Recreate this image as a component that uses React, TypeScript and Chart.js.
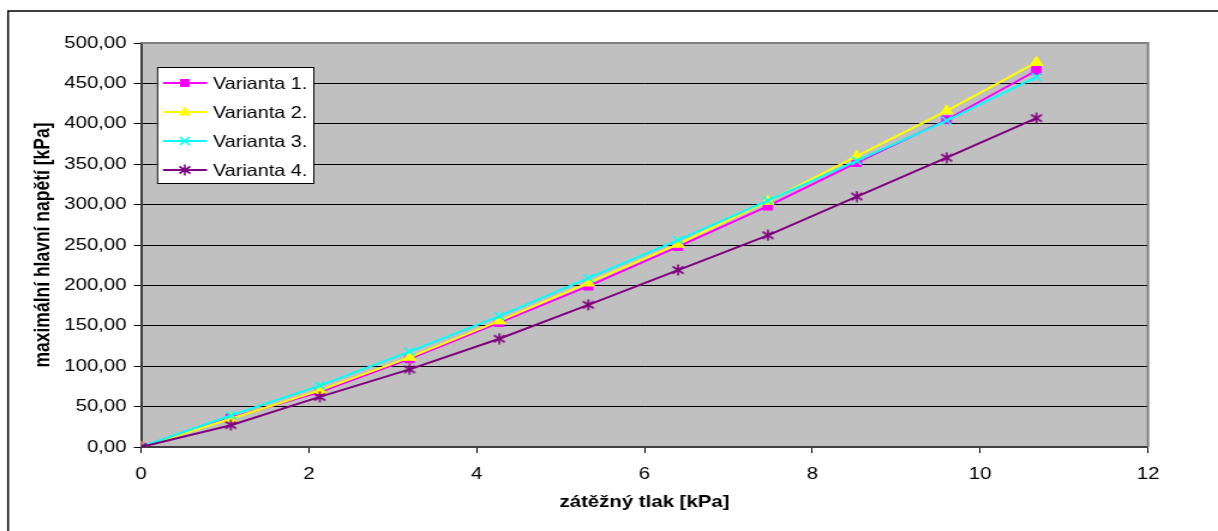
import React, { useEffect, useRef } from "react";
import { Chart, registerables } from "chart.js";

Chart.register(...registerables);

// ---- data ----
const xValues = [0, 1.07, 2.13, 3.2, 4.27, 5.33, 6.4, 7.47, 8.53, 9.6, 10.67];
const seriesNames = ["Varianta 1.", "Varianta 2.", "Varianta 3.", "Varianta 4."];
const variant1 = [0, 36, 68, 109, 154, 199, 248, 298, 352, 405, 466];
const variant2 = [0, 35, 70, 111, 156, 203, 251, 304, 360, 416, 476];
const variant3 = [0, 39, 76, 118, 162, 209, 256, 305, 354, 404, 458];
const variant4 = [0, 27, 62, 96, 134, 176, 219, 262, 310, 358, 407];
const xTickValues = [0, 2, 4, 6, 8, 10, 12];
const yTickValues = [0, 50, 100, 150, 200, 250, 300, 350, 400, 450, 500];
const xTitle = "zátěžný tlak [kPa]";
const yTitle = "maximální hlavní napětí [kPa]";

// ---- styling ----
const STRETCH = 1.2;
const W = Math.round(1218 / STRETCH);
const H = 531;
const FONT = "'Liberation Sans', Arial, sans-serif";
const colors = ["#FF00FF", "#FFFF00", "#00FFFF", "#800080"];
const styles = ["rect", "triangle", "crossRot", "star"];

function makeStar(color: string) {
  const c = document.createElement("canvas");
  c.width = 12;
  c.height = 12;
  const g = c.getContext("2d")!;
  g.strokeStyle = color;
  g.lineWidth = 1.6;
  g.beginPath();
  g.moveTo(6, 0.5);
  g.lineTo(6, 11.5);
  g.moveTo(1.5, 2.5);
  g.lineTo(10.5, 9.5);
  g.moveTo(10.5, 2.5);
  g.lineTo(1.5, 9.5);
  g.stroke();
  return c;
}

function drawMarker(ctx: CanvasRenderingContext2D, style: string, color: string, cx: number, cy: number, star: HTMLCanvasElement) {
  ctx.save();
  ctx.fillStyle = color;
  ctx.strokeStyle = color;
  ctx.lineWidth = 1.6;
  if (style === "rect") {
    ctx.fillRect(cx - 4, cy - 4, 8, 8);
  } else if (style === "triangle") {
    ctx.beginPath();
    ctx.moveTo(cx, cy - 5.5);
    ctx.lineTo(cx + 5, cy + 3.5);
    ctx.lineTo(cx - 5, cy + 3.5);
    ctx.closePath();
    ctx.fill();
  } else if (style === "crossRot") {
    ctx.beginPath();
    ctx.moveTo(cx - 4, cy - 4);
    ctx.lineTo(cx + 4, cy + 4);
    ctx.moveTo(cx + 4, cy - 4);
    ctx.lineTo(cx - 4, cy + 4);
    ctx.stroke();
  } else {
    ctx.drawImage(star, cx - 6, cy - 6);
  }
  ctx.restore();
}

export default function App() {
  const ref = useRef<HTMLCanvasElement | null>(null);

  useEffect(() => {
    const canvas = ref.current!;
    const star = makeStar(colors[3]);
    const allSeries = [variant1, variant2, variant3, variant4];

    const framePlugin = {
      id: "frame",
      beforeDraw(chart: any) {
        const { ctx, chartArea } = chart;
        ctx.save();
        ctx.fillStyle = "#FFFFFF";
        ctx.fillRect(0, 0, W, H);
        ctx.strokeStyle = "#000000";
        ctx.lineWidth = 1.5;
        ctx.beginPath();
        ctx.moveTo(6.7, H + 2);
        ctx.lineTo(6.7, 11);
        ctx.lineTo(W + 2, 11);
        ctx.stroke();
        ctx.fillStyle = "#C0C0C0";
        ctx.fillRect(chartArea.left, chartArea.top, chartArea.right - chartArea.left, chartArea.bottom - chartArea.top);
        ctx.restore();
      },
      beforeDatasetsDraw(chart: any) {
        const { ctx, chartArea } = chart;
        ctx.save();
        ctx.strokeStyle = "#808080";
        ctx.lineWidth = 2;
        ctx.beginPath();
        ctx.moveTo(chartArea.left, chartArea.top);
        ctx.lineTo(chartArea.right, chartArea.top);
        ctx.lineTo(chartArea.right, chartArea.bottom);
        ctx.stroke();
        ctx.restore();
      },
      afterDraw(chart: any) {
        const { ctx } = chart;
        const L = 130.8, T = 67, R = 262, B = 184;
        ctx.save();
        ctx.fillStyle = "#FFFFFF";
        ctx.fillRect(L, T, R - L, B - T);
        ctx.strokeStyle = "#000000";
        ctx.lineWidth = 1;
        ctx.strokeRect(L + 0.5, T + 0.5, R - L - 1, B - T - 1);
        const rows = [83, 112, 141, 170];
        seriesNames.forEach((name, i) => {
          const y = rows[i];
          ctx.strokeStyle = colors[i];
          ctx.lineWidth = 2;
          ctx.beginPath();
          ctx.moveTo(135.8, y);
          ctx.lineTo(172.5, y);
          ctx.stroke();
          drawMarker(ctx, styles[i], colors[i], 154, y, star);
          ctx.fillStyle = "#000000";
          ctx.font = `16.5px ${FONT}`;
          ctx.textBaseline = "middle";
          ctx.textAlign = "left";
          ctx.fillText(name, 177.5, y + 1);
        });
        ctx.restore();
      },
    };

    const chart = new Chart(canvas, {
      type: "line",
      data: {
        datasets: allSeries.map((vals, i) => ({
          label: seriesNames[i],
          data: xValues.map((x, j) => ({ x, y: vals[j] })),
          borderColor: colors[i],
          backgroundColor: colors[i],
          borderWidth: 2,
          pointStyle: i === 3 ? star : (styles[i] as any),
          pointRadius: i === 1 ? 6 : 5.5,
          pointBorderWidth: i === 2 ? 1.6 : 1,
          pointBackgroundColor: colors[i],
          pointBorderColor: colors[i],
          tension: 0,
          fill: false,
          order: 4 - i,
        })),
      },
      options: {
        animation: false,
        responsive: false,
        devicePixelRatio: 1,
        events: [],
        layout: { padding: { left: 0, top: 43, right: W - 1148 / STRETCH, bottom: 0 } },
        plugins: {
          legend: { display: false },
          tooltip: { enabled: false },
        },
        scales: {
          x: {
            type: "linear",
            min: 0,
            max: 12,
            afterBuildTicks: (s: any) => {
              s.ticks = xTickValues.map((v) => ({ value: v }));
            },
            afterFit: (s: any) => {
              s.height = H - 447;
            },
            grid: { drawOnChartArea: false, drawTicks: true, tickLength: 6, color: "#000000", lineWidth: 1 },
            border: { display: true, color: "#404040", width: 2 },
            ticks: { color: "#000000", font: { family: FONT, size: 17 }, padding: 11, maxRotation: 0 },
            title: {
              display: true,
              text: xTitle,
              color: "#000000",
              font: { family: FONT, size: 17, weight: "bold" },
              padding: { top: 0, bottom: 18 },
            },
          },
          y: {
            type: "linear",
            min: 0,
            max: 500,
            afterBuildTicks: (s: any) => {
              s.ticks = yTickValues.map((v) => ({ value: v }));
            },
            afterFit: (s: any) => {
              s.width = 141 / STRETCH;
            },
            grid: { drawOnChartArea: true, drawTicks: true, tickLength: 6, color: "#000000", lineWidth: 1 },
            border: { display: true, color: "#404040", width: 2 },
            ticks: {
              color: "#000000",
              font: { family: FONT, size: 17 },
              padding: 6,
              callback: (v: any) => Number(v).toFixed(2).replace(".", ","),
            },
            title: {
              display: true,
              text: yTitle,
              color: "#000000",
              font: { family: FONT, size: 17.5, weight: "bold" },
              padding: { top: 26, bottom: 0 },
            },
          },
        },
      },
      plugins: [framePlugin],
    } as any);

    return () => chart.destroy();
  }, []);

  return (
    <div style={{ position: "absolute", left: 0, top: 0, width: 1218, height: 531 }}>
      <canvas ref={ref} width={W} height={H} style={{ width: "1218px", height: "531px", display: "block" }} />
    </div>
  );
}
